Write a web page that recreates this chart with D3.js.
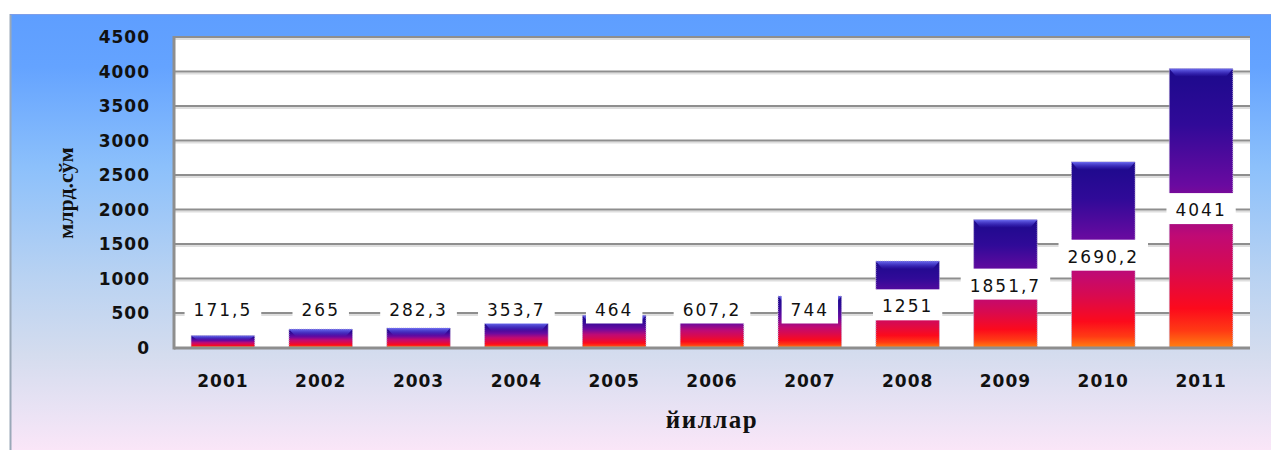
<!DOCTYPE html>
<html><head><meta charset="utf-8">
<script src="https://cdn.jsdelivr.net/npm/d3@7"></script>
<style>html,body{margin:0;padding:0;background:#fff;}svg{display:block;}</style>
</head><body>
<svg id="c" width="1271" height="450"></svg>
<script>
const years = ["2001","2002","2003","2004","2005","2006","2007","2008","2009","2010","2011"];
const values = [171.5,265,282.3,353.7,464,607.2,744,1251,1851.7,2690.2,4041];
const labels = ["171,5","265","282,3","353,7","464","607,2","744","1251","1851,7","2690,2","4041"];
const yTicks = [0,500,1000,1500,2000,2500,3000,3500,4000,4500];
const yTitle = "млрд.сўм";
const xTitle = "йиллар";

(function(){
const svg = d3.select("#c");
const defs = svg.append("defs");

const bg = defs.append("linearGradient").attr("id","bg").attr("x1",0).attr("y1",0).attr("x2",0).attr("y2",1);
[[0,"#5e9eff"],[0.12,"#64a3ff"],[0.35,"#8cc0fb"],[0.6,"#b8d2f2"],[0.78,"#d4dcee"],[0.9,"#e8e2f4"],[1,"#fae6f8"]]
  .forEach(s=>bg.append("stop").attr("offset",s[0]).attr("stop-color",s[1]));

const bar = defs.append("linearGradient").attr("id","bar").attr("x1",0).attr("y1",0).attr("x2",0).attr("y2",1);
[[0,"#1c0a8c"],[0.2,"#300a98"],[0.42,"#6a0aa0"],[0.6,"#c00a74"],[0.72,"#d80a50"],[0.86,"#fc0a1c"],[0.94,"#ff3a14"],[1,"#ff8010"]]
  .forEach(s=>bar.append("stop").attr("offset",s[0]).attr("stop-color",s[1]));

const bev = defs.append("linearGradient").attr("id","bev").attr("x1",0).attr("y1",0).attr("x2",0).attr("y2",1);
[[0,"#7070f4",0.95],[1,"#4a3ae0",0.0]].forEach(s=>bev.append("stop").attr("offset",s[0]).attr("stop-color",s[1]).attr("stop-opacity",s[2]));

// background
svg.append("rect").attr("x",10).attr("y",14).attr("width",1261).attr("height",436).attr("fill","url(#bg)");
svg.append("line").attr("x1",10.5).attr("x2",10.5).attr("y1",14).attr("y2",450).attr("stroke","#9aa8b8").attr("stroke-width",2);
svg.append("line").attr("x1",10).attr("x2",1271).attr("y1",14.5).attr("y2",14.5).attr("stroke","#7e9ee8").attr("stroke-width",1);

const pL=174, pR=1250, pT=37, pB=347.5;
const x = d3.scaleBand().domain(years).range([pL,pR]).paddingInner(0.35).paddingOuter(0.175);
const y = d3.scaleLinear().domain([0,4500]).range([pB,pT]);

// plot area
svg.append("rect").attr("x",pL).attr("y",pT).attr("width",pR-pL).attr("height",pB-pT).attr("fill","#fff");

// gridlines
const g = svg.append("g");
g.selectAll("line.sh").data(yTicks.filter(d=>d>0)).join("line").attr("class","sh")
  .attr("x1",pL).attr("x2",pR).attr("y1",d=>y(d)+2).attr("y2",d=>y(d)+2)
  .attr("stroke","#dedede").attr("stroke-width",2);
g.selectAll("line.gl").data(yTicks.filter(d=>d>0)).join("line").attr("class","gl")
  .attr("x1",pL).attr("x2",pR).attr("y1",d=>y(d)).attr("y2",d=>y(d))
  .attr("stroke","#8e8e8e").attr("stroke-width",2);

// bars
const bars = svg.append("g");
years.forEach((yr,i)=>{
  const v = values[i];
  const bx = x(yr), bw = x.bandwidth(), by = y(v), bh = y(0)-y(v);
  bars.append("rect").attr("x",bx).attr("y",by).attr("width",bw).attr("height",bh)
    .attr("fill","url(#bar)").attr("stroke","#c0b4d8").attr("stroke-width",1).attr("stroke-dasharray","1,1");
  const bvh = Math.min(8, bh*0.4);
  bars.append("path")
    .attr("d",`M${bx},${by}L${bx+bw},${by}L${bx+bw-7},${by+bvh}L${bx+7},${by+bvh}Z`)
    .attr("fill","url(#bev)");
  bars.append("line").attr("x1",bx+1).attr("x2",bx+bw-1).attr("y1",y(0)-0.5).attr("y2",y(0)-0.5)
    .attr("stroke","#ff7a20").attr("stroke-width",1);
});

// axes lines
svg.append("line").attr("x1",pL).attr("x2",pR).attr("y1",pB+0.5).attr("y2",pB+0.5).attr("stroke","#8e8e8e").attr("stroke-width",3);
svg.append("line").attr("x1",pL).attr("x2",pL).attr("y1",pT-1).attr("y2",pB+2).attr("stroke","#8e8e8e").attr("stroke-width",3);

// y tick labels
svg.append("g").selectAll("text").data(yTicks).join("text")
  .attr("x",150).attr("y",d=>y(d)).attr("dy","0.36em").attr("text-anchor","end")
  .attr("font-family","DejaVu Sans, Verdana, sans-serif").attr("font-weight","bold").attr("font-size",17)
  .attr("letter-spacing",1).attr("fill","#111").text(d=>d);

// x tick labels
svg.append("g").selectAll("text").data(years).join("text")
  .attr("x",d=>x(d)+x.bandwidth()/2).attr("y",381).attr("dy","0.36em").attr("text-anchor","middle")
  .attr("font-family","DejaVu Sans, Verdana, sans-serif").attr("font-weight","bold").attr("font-size",17)
  .attr("letter-spacing",1).attr("fill","#111").text(d=>d);

// data labels
const lg = svg.append("g");
years.forEach((yr,i)=>{
  const v = values[i];
  const cx = x(yr)+x.bandwidth()/2;
  const cy = Math.min(y(v/2)+2, y(0)-38);
  const t = lg.append("text").attr("x",cx).attr("y",cy).attr("dy","0.36em").attr("text-anchor","middle")
    .attr("font-family","DejaVu Sans, Verdana, sans-serif").attr("font-size",17).attr("letter-spacing",2)
    .attr("fill","#111").text(labels[i]);
  const bb = t.node().getBBox();
  lg.insert("rect","text").attr("x",bb.x-9).attr("y",cy-17).attr("width",bb.width+18).attr("height",31).attr("fill","#fff");
});

// axis titles
svg.append("text").attr("transform","translate(65,193) rotate(-90)").attr("text-anchor","middle").attr("dy","0.35em")
  .attr("font-family","Liberation Serif, Times New Roman, serif").attr("font-weight","bold").attr("font-size",22)
  .attr("fill","#111").text(yTitle);
svg.append("text").attr("x",712).attr("y",428).attr("text-anchor","middle")
  .attr("font-family","Liberation Serif, Times New Roman, serif").attr("font-weight","bold").attr("font-size",25)
  .attr("letter-spacing",1.5).attr("fill","#111").text(xTitle);
})();
</script>
</body></html>
